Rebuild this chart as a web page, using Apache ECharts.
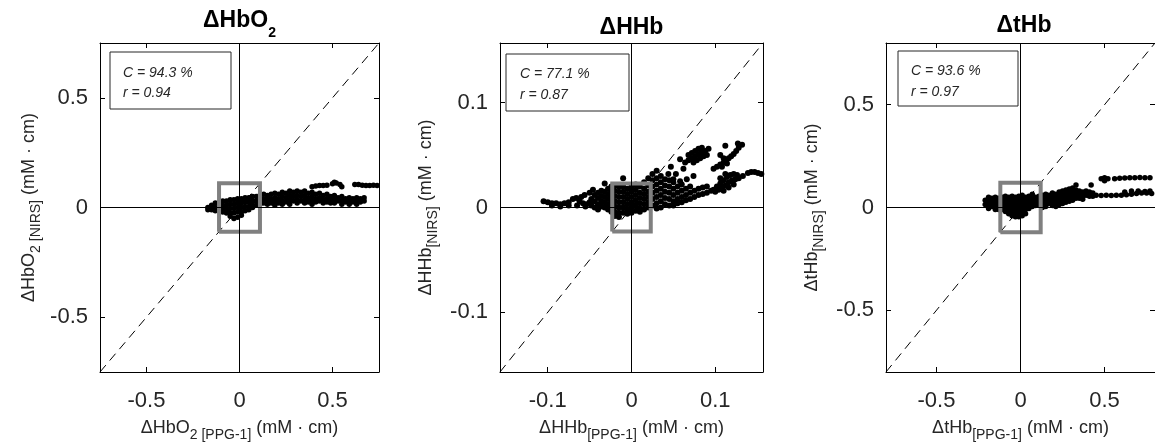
<!DOCTYPE html>
<html><head><meta charset="utf-8">
<script src="https://cdn.jsdelivr.net/npm/echarts@6/dist/echarts.min.js"></script>
<style>html,body{margin:0;padding:0;background:#fff}#c{width:1155px;height:447px}</style>
</head><body><div id="c"></div>
<script>
// ---------- data ----------
const panelTitles = ['{t|ΔHbO}{s|2}', '{t|ΔHHb}', '{t|ΔtHb}'];
const xAxisNames = ['{a|ΔHbO}{b|2 [PPG-1]}{a| (mM · cm)}', '{a|ΔHHb}{b|[PPG-1]}{a| (mM · cm)}', '{a|ΔtHb}{b|[PPG-1]}{a| (mM · cm)}'];
const yAxisNames = ['{a|ΔHbO}{b|2 [NIRS]}{a| (mM · cm)}', '{a|ΔHHb}{b|[NIRS]}{a| (mM · cm)}', '{a|ΔtHb}{b|[NIRS]}{a| (mM · cm)}'];
const coefC = ['94.3', '77.1', '93.6'];
const coefR = ['0.94', '0.87', '0.97'];
const axisRanges = [[-0.75, 0.75], [-0.157, 0.157], [-0.8, 0.8]];
const tickValues = [[-0.5, 0, 0.5], [-0.1, 0, 0.1], [-0.5, 0, 0.5]];
const zoomBoxHalf = [0.11, 0.023, 0.12];

const hbo2Points = [
[-0.17,0.0],[-0.17,-0.01],[-0.15,0.01],[-0.15,-0.01],
[-0.13,0.02],[-0.13,0.0],[-0.13,-0.015],[-0.11,0.02],[-0.11,0.0],[-0.11,-0.015],
[-0.09,0.03],[-0.09,0.01],[-0.09,-0.01],[-0.09,-0.02],[-0.07,0.03],[-0.07,0.01],[-0.07,-0.01],[-0.07,-0.025],
[-0.05,0.035],[-0.05,0.015],[-0.05,-0.005],[-0.05,-0.025],[-0.05,-0.04],
[-0.03,0.035],[-0.03,0.015],[-0.03,-0.005],[-0.03,-0.025],[-0.03,-0.05],
[-0.01,0.04],[-0.01,0.02],[-0.01,0.0],[-0.01,-0.02],[-0.01,-0.045],
[0.01,0.04],[0.01,0.02],[0.01,0.0],[0.01,-0.02],[0.01,-0.035],
[0.03,0.045],[0.03,0.025],[0.03,0.005],[0.03,-0.015],
[0.05,0.045],[0.05,0.025],[0.05,0.005],[0.05,-0.01],
[0.07,0.05],[0.07,0.03],[0.07,0.01],[0.07,0.0],
[0.09,0.05],[0.09,0.03],[0.09,0.01],[0.11,0.055],[0.11,0.035],[0.11,0.015],
[0.13,0.06],[0.13,0.04],[0.13,0.02],[0.15,0.055],[0.15,0.035],[0.15,0.015],
[0.17,0.06],[0.17,0.04],[0.17,0.02],[0.19,0.065],[0.19,0.045],[0.19,0.025],[0.19,0.01],
[0.21,0.06],[0.21,0.04],[0.21,0.02],[0.23,0.07],[0.23,0.05],[0.23,0.03],[0.23,0.015],
[0.25,0.065],[0.25,0.045],[0.25,0.025],[0.27,0.075],[0.27,0.055],[0.27,0.035],[0.27,0.015],
[0.29,0.07],[0.29,0.05],[0.29,0.03],[0.31,0.075],[0.31,0.055],[0.31,0.035],[0.31,0.02],
[0.33,0.07],[0.33,0.05],[0.33,0.03],[0.35,0.075],[0.35,0.055],[0.35,0.035],[0.35,0.02],
[0.37,0.065],[0.37,0.045],[0.37,0.025],[0.39,0.07],[0.39,0.05],[0.39,0.03],[0.39,0.015],
[0.41,0.06],[0.41,0.04],[0.41,0.025],[0.43,0.065],[0.43,0.045],[0.43,0.03],
[0.45,0.055],[0.45,0.035],[0.45,0.02],[0.47,0.06],[0.47,0.04],[0.47,0.025],
[0.49,0.05],[0.49,0.035],[0.49,0.02],[0.51,0.055],[0.51,0.035],[0.51,0.02],
[0.53,0.045],[0.53,0.03],[0.55,0.05],[0.55,0.03],[0.55,0.015],[0.57,0.04],[0.57,0.025],
[0.59,0.045],[0.59,0.03],[0.59,0.015],[0.61,0.04],[0.61,0.025],
[0.63,0.045],[0.63,0.03],[0.63,0.015],[0.65,0.04],[0.65,0.025],[0.67,0.045],[0.67,0.03],
[0.39,0.095],[0.41,0.098],[0.43,0.1],[0.45,0.1],[0.47,0.102],[0.5,0.108],[0.51,0.115],[0.52,0.112],[0.54,0.105],[0.55,0.095],
[0.62,0.105],[0.64,0.105],[0.66,0.102],[0.68,0.1],[0.70,0.1],[0.72,0.102],[0.74,0.1]
];

const hhbPoints = [
[-0.105,0.006],[-0.1,0.005],[-0.095,0.004],[-0.09,0.004],[-0.085,0.003],[-0.08,0.004],[-0.075,0.005],[-0.07,0.008],
[-0.066,0.009],[-0.062,0.006],[-0.058,0.004],[-0.054,0.003],[-0.05,0.005],[-0.095,0.002],[-0.085,0.001],[-0.075,0.002],
[-0.065,0.002],[-0.055,0.001],[-0.06,0.01],[-0.056,0.012],[-0.05,0.014],[-0.046,0.017],
[-0.048,0.008],[-0.048,0.002],[-0.044,0.012],[-0.044,0.006],[-0.044,0.0],
[-0.04,0.014],[-0.04,0.009],[-0.04,0.003],[-0.04,-0.002],[-0.036,0.016],[-0.036,0.011],[-0.036,0.006],[-0.036,0.001],
[-0.032,0.023],[-0.032,0.015],[-0.032,0.01],[-0.032,0.005],[-0.032,0.0],
[-0.028,0.018],[-0.028,0.013],[-0.028,0.008],[-0.028,0.003],[-0.028,-0.002],
[-0.024,0.02],[-0.024,0.015],[-0.024,0.01],[-0.024,0.005],[-0.024,0.0],[-0.024,-0.004],
[-0.02,0.021],[-0.02,0.016],[-0.02,0.011],[-0.02,0.006],[-0.02,0.001],[-0.02,-0.004],[-0.02,-0.008],
[-0.015,0.02],[-0.015,0.015],[-0.015,0.01],[-0.015,0.005],[-0.015,0.0],[-0.015,-0.005],[-0.015,-0.009],
[-0.01,0.028],[-0.01,0.02],[-0.01,0.015],[-0.01,0.01],[-0.01,0.005],[-0.01,0.0],[-0.01,-0.005],
[-0.005,0.018],[-0.005,0.013],[-0.005,0.008],[-0.005,0.003],[-0.005,-0.002],[-0.005,-0.006],
[0.0,0.02],[0.0,0.015],[0.0,0.01],[0.0,0.005],[0.0,0.0],[0.0,-0.005],
[0.005,0.022],[0.005,0.017],[0.005,0.012],[0.005,0.007],[0.005,0.002],[0.005,-0.003],
[0.01,0.02],[0.01,0.014],[0.01,0.009],[0.01,0.004],[0.01,-0.001],[0.01,-0.004],
[0.015,0.024],[0.015,0.018],[0.015,0.013],[0.015,0.008],[0.015,0.003],[0.015,-0.002],
[0.02,0.028],[0.02,0.021],[0.02,0.015],[0.02,0.01],[0.02,0.005],[0.02,0.0],
[0.025,0.032],[0.025,0.026],[0.025,0.02],[0.025,0.014],[0.025,0.008],[0.025,0.002],
[0.03,0.035],[0.03,0.028],[0.03,0.022],[0.03,0.016],[0.03,0.01],[0.03,0.004],[0.03,-0.001],
[0.035,0.03],[0.035,0.024],[0.035,0.018],[0.035,0.012],[0.035,0.006],[0.035,0.0],
[0.04,0.027],[0.04,0.021],[0.04,0.015],[0.04,0.009],[0.04,0.003],
[0.045,0.026],[0.045,0.02],[0.045,0.014],[0.045,0.008],[0.045,0.002],
[0.05,0.024],[0.05,0.018],[0.05,0.012],[0.05,0.006],[0.05,0.002],
[0.055,0.02],[0.055,0.014],[0.055,0.008],[0.055,0.004],[0.06,0.022],[0.06,0.016],[0.06,0.01],[0.06,0.005],
[0.065,0.018],[0.065,0.012],[0.065,0.007],[0.07,0.02],[0.07,0.014],[0.07,0.008],
[0.075,0.016],[0.075,0.01],[0.08,0.018],[0.08,0.012],[0.085,0.019],[0.085,0.013],[0.09,0.02],[0.09,0.014],
[0.095,0.016],[0.1,0.017],
[0.047,0.039],[0.062,0.037],[0.044,0.032],[0.053,0.032],[0.074,0.03],[0.058,0.046],[0.05,0.027],[0.058,0.025],[0.066,0.027],
[0.064,0.043],[0.068,0.045],[0.072,0.047],[0.076,0.049],[0.08,0.051],[0.084,0.053],[0.088,0.054],[0.092,0.056],
[0.068,0.05],[0.072,0.052],[0.076,0.054],[0.08,0.056],[0.084,0.057],[0.074,0.043],[0.078,0.045],[0.082,0.047],[0.086,0.049],[0.09,0.05],
[0.132,0.06],[0.128,0.057],[0.125,0.054],[0.122,0.051],[0.119,0.049],[0.116,0.047],[0.113,0.045],[0.11,0.043],
[0.106,0.041],[0.102,0.039],[0.098,0.037],[0.112,0.059],[0.127,0.061],
[0.106,0.05],[0.11,0.047],[0.114,0.042],[0.108,0.039],
[0.098,0.017],[0.102,0.02],[0.106,0.023],[0.11,0.026],[0.114,0.029],[0.118,0.031],[0.122,0.032],[0.126,0.031],
[0.1,0.015],[0.104,0.017],[0.108,0.019],[0.112,0.021],[0.116,0.024],[0.12,0.026],[0.124,0.027],[0.128,0.028],
[0.11,0.016],[0.116,0.019],[0.122,0.022],[0.106,0.028],[0.112,0.032],
[0.133,0.03],[0.139,0.033],[0.143,0.034],[0.147,0.034],[0.151,0.033],[0.155,0.032],[0.158,0.031]
];

const thbPoints = [
[-0.21,0.035],[-0.21,0.015],[-0.19,0.05],[-0.19,0.03],[-0.19,0.01],[-0.19,-0.005],
[-0.17,0.045],[-0.17,0.025],[-0.17,0.005],[-0.15,0.05],[-0.15,0.03],[-0.15,0.01],[-0.15,-0.01],
[-0.13,0.045],[-0.13,0.025],[-0.13,0.005],[-0.13,-0.01],[-0.11,0.05],[-0.11,0.03],[-0.11,0.01],[-0.11,-0.01],
[-0.09,0.055],[-0.09,0.035],[-0.09,0.015],[-0.09,-0.005],[-0.09,-0.02],
[-0.07,0.05],[-0.07,0.03],[-0.07,0.01],[-0.07,-0.01],[-0.07,-0.03],
[-0.05,0.055],[-0.05,0.035],[-0.05,0.015],[-0.05,-0.005],[-0.05,-0.025],[-0.05,-0.04],
[-0.03,0.05],[-0.03,0.03],[-0.03,0.01],[-0.03,-0.01],[-0.03,-0.03],[-0.03,-0.045],
[-0.01,0.055],[-0.01,0.035],[-0.01,0.015],[-0.01,-0.005],[-0.01,-0.025],[-0.01,-0.045],
[0.01,0.06],[0.01,0.04],[0.01,0.02],[0.01,0.0],[0.01,-0.02],[0.01,-0.04],
[0.03,0.05],[0.03,0.03],[0.03,0.01],[0.03,-0.01],[0.03,-0.03],
[0.05,0.055],[0.05,0.035],[0.05,0.015],[0.05,-0.005],[0.07,0.065],[0.07,0.045],[0.07,0.025],[0.07,0.005],
[0.09,0.05],[0.09,0.03],[0.09,0.01],[0.11,0.055],[0.11,0.035],[0.11,0.015],
[0.13,0.06],[0.13,0.04],[0.13,0.02],[0.13,0.0],[0.15,0.065],[0.15,0.045],[0.15,0.025],[0.15,0.005],
[0.17,0.06],[0.17,0.04],[0.17,0.02],[0.19,0.07],[0.19,0.05],[0.19,0.03],[0.19,0.01],
[0.21,0.065],[0.21,0.045],[0.21,0.025],[0.21,0.005],[0.23,0.075],[0.23,0.055],[0.23,0.035],[0.23,0.015],
[0.25,0.08],[0.25,0.06],[0.25,0.04],[0.25,0.02],[0.27,0.085],[0.27,0.065],[0.27,0.045],[0.27,0.025],
[0.29,0.09],[0.29,0.07],[0.29,0.05],[0.29,0.03],[0.31,0.095],[0.31,0.075],[0.31,0.055],[0.31,0.035],
[0.33,0.085],[0.33,0.065],[0.33,0.045],[0.35,0.08],[0.35,0.06],[0.35,0.045],
[0.37,0.075],[0.37,0.055],[0.37,0.04],[0.39,0.08],[0.39,0.06],[0.41,0.075],[0.41,0.055],[0.43,0.07],[0.43,0.055],
[0.33,0.11],[0.42,0.11],
[0.45,0.06],[0.48,0.058],[0.51,0.06],[0.54,0.058],[0.57,0.06],[0.6,0.06],[0.63,0.062],[0.66,0.065],
[0.69,0.068],[0.72,0.07],[0.75,0.07],[0.78,0.068],[0.62,0.075],[0.66,0.08],[0.7,0.08],[0.74,0.078],[0.77,0.08],
[0.48,0.14],[0.5,0.145],[0.52,0.14],[0.56,0.14],[0.59,0.142],[0.62,0.143],[0.65,0.145],[0.68,0.145],
[0.71,0.146],[0.74,0.145],[0.77,0.145],[0.5,0.13]
];
const panelPoints = [hbo2Points, hhbPoints, thbPoints];

// ---------- layout / style ----------
const FF = '"Liberation Sans", Arial, Helvetica, sans-serif';
const INK = '#262626';
const grids = [
  {left: 100, top: 43, width: 279, height: 329},
  {left: 500, top: 43, width: 263, height: 329},
  {left: 886, top: 43, width: 276, height: 329}
];
const symbolSizes = [5.5, 6, 5.5];
const yNameGaps = [59, 62, 62];
const titleTops = [9, 15.7, 14];
const statBoxes = [
  {x: 110, y: 52, w: 121, h: 57, tx: 123, ty1: 73, ty2: 93},
  {x: 506, y: 54, w: 123, h: 57, tx: 520, ty1: 74, ty2: 95},
  {x: 898, y: 51, w: 120, h: 55, tx: 911, ty1: 71, ty2: 92}
];

const nameRich = {
  a: {fontSize: 18, lineHeight: 21, verticalAlign: 'top', color: INK, fontFamily: FF},
  b: {fontSize: 14, lineHeight: 16, padding: [9, 0, 0, 0], verticalAlign: 'top', color: INK, fontFamily: FF}
};
const titleRich = {
  t: {fontSize: 23, fontWeight: 'bold', lineHeight: 26, verticalAlign: 'top', color: '#000', fontFamily: FF},
  s: {fontSize: 14, fontWeight: 'bold', lineHeight: 16, padding: [17, 0, 0, 0], verticalAlign: 'top', color: '#000', fontFamily: FF}
};

const xAxes = [], yAxes = [], series = [], titles = [], graphics = [];
const lineCol = '#000';

grids.forEach((g, i) => {
  const r = axisRanges[i], tk = tickValues[i];
  const common = {
    gridIndex: i, type: 'value', min: r[0], max: r[1],
    axisLine: {show: true, onZero: false, lineStyle: {color: lineCol, width: 1}},
    axisTick: {show: true, inside: true, length: 5, customValues: tk, lineStyle: {color: lineCol, width: 1}},
    splitLine: {show: false}
  };
  xAxes.push(Object.assign({}, common, {
    position: 'bottom',
    axisLabel: {customValues: tk, fontSize: 22, color: INK, fontFamily: FF, margin: 18},
    name: xAxisNames[i], nameLocation: 'middle', nameGap: 47,
    nameTextStyle: {rich: nameRich}
  }));
  xAxes.push(Object.assign({}, common, {position: 'top', axisLabel: {show: false}}));
  yAxes.push(Object.assign({}, common, {
    position: 'left',
    axisLabel: {customValues: tk, fontSize: 22, color: INK, fontFamily: FF, margin: 12},
    name: yAxisNames[i], nameLocation: 'middle', nameGap: yNameGaps[i],
    nameTextStyle: {rich: nameRich}
  }));
  yAxes.push(Object.assign({}, common, {position: 'right', axisLabel: {show: false}}));

  const xi = 2 * i, yi = 2 * i;
  series.push({
    type: 'line', xAxisIndex: xi, yAxisIndex: yi, z: 1, silent: true,
    data: [[r[0], r[0]], [r[1], r[1]]], symbol: 'none',
    lineStyle: {color: '#000', width: 1, type: [9, 6]},
    markLine: {
      silent: true, symbol: 'none', label: {show: false},
      lineStyle: {color: '#000', width: 1, type: 'solid'},
      data: [{xAxis: 0}, {yAxis: 0}]
    }
  });
  series.push({
    type: 'scatter', xAxisIndex: xi, yAxisIndex: yi, z: 3, silent: true,
    data: panelPoints[i], symbol: 'circle', symbolSize: symbolSizes[i],
    itemStyle: {color: '#000', opacity: 1}
  });
  const b = zoomBoxHalf[i];
  series.push({
    type: 'line', xAxisIndex: xi, yAxisIndex: yi, z: 4, silent: true,
    data: [[-b, -b], [b, -b], [b, b], [-b, b], [-b, -b]], symbol: 'none',
    lineStyle: {color: '#808080', width: 4, join: 'miter'}
  });

  titles.push({
    text: panelTitles[i], left: g.left + g.width / 2, top: titleTops[i], textAlign: 'center', padding: 0,
    textStyle: {rich: titleRich}
  });

  const s = statBoxes[i];
  graphics.push({type: 'rect', shape: {x: s.x, y: s.y, width: s.w, height: s.h},
    style: {fill: '#fff', stroke: INK, lineWidth: 1}, z: 100});
  graphics.push({type: 'text', x: s.tx, y: s.ty1, z: 101,
    style: {text: 'C = ' + coefC[i] + ' %', fontSize: 14, fontStyle: 'italic', fontFamily: FF, fill: INK, verticalAlign: 'middle'}});
  graphics.push({type: 'text', x: s.tx, y: s.ty2, z: 101,
    style: {text: 'r = ' + coefR[i], fontSize: 14, fontStyle: 'italic', fontFamily: FF, fill: INK, verticalAlign: 'middle'}});
});

const chart = echarts.init(document.getElementById('c'), null, {renderer: 'canvas'});
chart.setOption({
  animation: false,
  backgroundColor: '#fff',
  title: titles,
  grid: grids.map(g => Object.assign({containLabel: false}, g)),
  xAxis: xAxes,
  yAxis: yAxes,
  series: series,
  graphic: graphics
});
</script>
</body></html>
